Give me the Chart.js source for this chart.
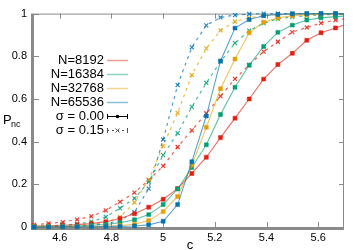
<!DOCTYPE html>
<html>
<head>
<meta charset="utf-8">
<script src="https://cdn.jsdelivr.net/npm/chart.js@4"></script>
<style>
  html, body { margin: 0; padding: 0; background: #fff; }
  #chart { display: block; }
</style>
</head>
<body>
<canvas id="chart" width="357" height="250"></canvas>
<script>
// control parameter c
const cValues = [4.5, 4.556, 4.611, 4.667, 4.722, 4.778, 4.833, 4.889, 4.944, 5.0, 5.056, 5.111,
    5.167, 5.222, 5.278, 5.333, 5.389, 5.444, 5.5, 5.556, 5.611, 5.667, 5.722];

// sigma = 0.00
const p8192 = [0.004, 0.006, 0.008, 0.011, 0.016, 0.025, 0.04, 0.062, 0.093, 0.13, 0.18, 0.251,
    0.327, 0.419, 0.51, 0.60, 0.693, 0.761, 0.814, 0.875, 0.91, 0.933, 0.955];
const p16384 = [0.001, 0.002, 0.003, 0.005, 0.008, 0.012, 0.02, 0.034, 0.058, 0.105, 0.178, 0.279,
    0.385, 0.527, 0.655, 0.758, 0.846, 0.912, 0.946, 0.97, 0.98, 0.986, 0.99];
const p32768 = [0.001, 0.001, 0.002, 0.002, 0.003, 0.004, 0.007, 0.013, 0.03, 0.072, 0.143, 0.29,
    0.467, 0.648, 0.787, 0.91, 0.96, 0.98, 0.99, 0.995, 0.998, 1, 1];
const p65536 = [0, 0, 0.001, 0.001, 0.001, 0.002, 0.003, 0.005, 0.01, 0.027, 0.105, 0.306,
    0.52, 0.778, 0.932, 0.972, 0.99, 0.996, 0.999, 1, 1, 1, 1];

// sigma = 0.15
const q8192 = [0.01, 0.017, 0.023, 0.035, 0.05, 0.078, 0.118, 0.161, 0.22, 0.286, 0.375, 0.453,
    0.533, 0.613, 0.694, 0.76, 0.822, 0.868, 0.913, 0.935, 0.955, 0.97, 0.978];
const q16384 = [0.003, 0.005, 0.009, 0.014, 0.025, 0.047, 0.088, 0.134, 0.212, 0.337, 0.44, 0.563,
    0.675, 0.775, 0.862, 0.92, 0.955, 0.975, 0.985, 0.99, 0.994, 0.996, 0.998];
const q32768 = [0.001, 0.002, 0.004, 0.007, 0.012, 0.022, 0.047, 0.115, 0.222, 0.38, 0.535, 0.712,
    0.837, 0.921, 0.963, 0.98, 0.99, 0.995, 0.998, 1, 1, 1, 1];
const q65536 = [0, 0.001, 0.002, 0.004, 0.008, 0.015, 0.03, 0.07, 0.18, 0.41, 0.665, 0.842,
    0.945, 0.982, 0.993, 0.998, 1, 1, 1, 1, 1, 1, 1];

const sizeLabels = ['N=8192', 'N=16384', 'N=32768', 'N=65536'];
const sigmaLabels = ['σ = 0.00', 'σ = 0.15'];
const xTicks = [4.6, 4.8, 5.0, 5.2, 5.4, 5.6];
const yTicks = [0, 0.2, 0.4, 0.6, 0.8, 1];

const colors = ['229, 30, 16', '0, 158, 115', '230, 159, 0', '0, 114, 178'];
const FONT = '"Liberation Sans", Arial, sans-serif';

function points(ys) {
    return ys.map((y, i) => ({ x: cValues[i], y: y }));
}

function solidSet(ys, k) {
    return {
        data: points(ys),
        borderColor: `rgba(${colors[k]}, 0.65)`,
        backgroundColor: `rgb(${colors[k]})`,
        pointBorderColor: `rgb(${colors[k]})`,
        borderWidth: 1.1,
        pointStyle: 'rect',
        pointRadius: 2.8,
        pointBorderWidth: 0.5,
        order: 3 - k
    };
}

function dashedSet(ys, k) {
    return {
        data: points(ys),
        borderColor: `rgba(${colors[k]}, 0.7)`,
        backgroundColor: `rgba(${colors[k]}, 0.8)`,
        pointBorderColor: `rgba(${colors[k]}, 0.85)`,
        borderWidth: 1.2,
        borderDash: [3, 4],
        pointStyle: 'crossRot',
        pointRadius: 2.8,
        pointBorderWidth: 1.2,
        order: 7 - k
    };
}

const framePlugin = {
    id: 'frame',
    beforeDatasetsDraw(chart) {
        const { ctx, chartArea: a, scales } = chart;
        ctx.save();
        ctx.strokeStyle = '#8a8a8a';
        ctx.lineWidth = 1;
        ctx.beginPath();
        ctx.moveTo(a.left, a.top + 0.5);
        ctx.lineTo(a.right, a.top + 0.5);
        ctx.moveTo(a.right - 0.5, a.top);
        ctx.lineTo(a.right - 0.5, a.bottom);
        // inner ticks
        xTicks.forEach(v => {
            const x = Math.round(scales.x.getPixelForValue(v)) + 0.5;
            ctx.moveTo(x, a.bottom);
            ctx.lineTo(x, a.bottom - 5);
            ctx.moveTo(x, a.top);
            ctx.lineTo(x, a.top + 5);
        });
        yTicks.forEach(v => {
            const y = Math.round(scales.y.getPixelForValue(v)) + 0.5;
            ctx.moveTo(a.left, y);
            ctx.lineTo(a.left + 5, y);
            ctx.moveTo(a.right, y);
            ctx.lineTo(a.right - 5, y);
        });
        ctx.stroke();
        ctx.lineWidth = 3;
        ctx.strokeStyle = '#8a8a8a';
        ctx.beginPath();
        ctx.moveTo(a.left - 1.5, a.top);
        ctx.lineTo(a.left - 1.5, a.bottom + 1.5);
        ctx.lineTo(a.right, a.bottom + 1.5);
        ctx.stroke();
        ctx.restore();
    },
    afterDraw(chart) {
        const { ctx } = chart;
        ctx.save();
        ctx.fillStyle = '#000';
        ctx.textBaseline = 'middle';

        // axis titles
        ctx.font = `13px ${FONT}`;
        ctx.textAlign = 'left';
        ctx.fillText('P', 3, 120);
        ctx.font = `9px ${FONT}`;
        ctx.fillText('nc', 11, 125);
        ctx.font = `13px ${FONT}`;
        ctx.textAlign = 'center';
        ctx.fillText('c', 190, 245);

        // key
        const textRight = 104, x0 = 107, x1 = 128, top = 60, step = 14;
        ctx.textAlign = 'right';
        ctx.font = `13px ${FONT}`;
        sizeLabels.forEach((lab, k) => {
            const y = top + k * step;
            ctx.fillStyle = '#000';
            ctx.fillText(lab, textRight, y);
            ctx.strokeStyle = `rgba(${colors[k]}, 0.45)`;
            ctx.lineWidth = 1.5;
            ctx.beginPath();
            ctx.moveTo(x0, y + 0.5);
            ctx.lineTo(x1, y + 0.5);
            ctx.stroke();
        });
        sigmaLabels.forEach((lab, j) => {
            const y = top + (4 + j) * step;
            ctx.fillStyle = '#000';
            ctx.fillText(lab, textRight, y);
            ctx.strokeStyle = j === 0 ? '#000' : '#555';
            ctx.lineWidth = 1;
            ctx.setLineDash(j === 0 ? [] : [2, 3]);
            ctx.beginPath();
            ctx.moveTo(x0, y + 0.5);
            ctx.lineTo(x1, y + 0.5);
            ctx.stroke();
            ctx.setLineDash([]);
            ctx.beginPath();
            ctx.moveTo(x0 + 0.5, y - 2);
            ctx.lineTo(x0 + 0.5, y + 3);
            ctx.moveTo(x1 - 0.5, y - 2);
            ctx.lineTo(x1 - 0.5, y + 3);
            ctx.stroke();
            const xm = (x0 + x1) / 2;
            if (j === 0) {
                ctx.fillStyle = '#000';
                ctx.beginPath();
                ctx.arc(xm, y + 0.5, 1.8, 0, Math.PI * 2);
                ctx.fill();
            } else {
                ctx.beginPath();
                ctx.moveTo(xm - 2, y - 1.5);
                ctx.lineTo(xm + 2, y + 2.5);
                ctx.moveTo(xm + 2, y - 1.5);
                ctx.lineTo(xm - 2, y + 2.5);
                ctx.stroke();
            }
        });
        ctx.restore();
    }
};

const datasets = [
    solidSet(p8192, 0), solidSet(p16384, 1), solidSet(p32768, 2), solidSet(p65536, 3),
    dashedSet(q8192, 0), dashedSet(q16384, 1), dashedSet(q32768, 2), dashedSet(q65536, 3)
];
datasets.forEach(d => {
    d.tension = 0;
    d.clip = { left: 5, top: 5, right: 0, bottom: 5 };
});

new Chart(document.getElementById('chart').getContext('2d'), {
    type: 'line',
    data: { datasets: datasets },
    options: {
        responsive: false,
        animation: false,
        devicePixelRatio: 1,
        layout: { padding: { left: 0, top: 7, right: 13, bottom: 0 } },
        plugins: { legend: { display: false }, tooltip: { enabled: false } },
        scales: {
            x: {
                type: 'linear',
                min: 4.5,
                max: 5.7,
                grid: { display: false, drawTicks: false },
                border: { display: false },
                afterBuildTicks: s => { s.ticks = xTicks.map(v => ({ value: v })); },
                afterFit: s => { s.height = 23; },
                ticks: {
                    padding: 4,
                    color: '#000',
                    font: { family: FONT, size: 11 },
                    maxRotation: 0,
                    callback: v => String(Number(v.toFixed(2)))
                }
            },
            y: {
                min: 0,
                max: 1,
                grid: { display: false, drawTicks: false },
                border: { display: false },
                afterBuildTicks: s => { s.ticks = yTicks.map(v => ({ value: v })); },
                afterFit: s => { s.width = 34; },
                ticks: {
                    padding: 7,
                    color: '#000',
                    font: { family: FONT, size: 11 },
                    callback: v => String(Number(v.toFixed(2)))
                }
            }
        }
    },
    plugins: [framePlugin]
});
</script>
</body>
</html>
